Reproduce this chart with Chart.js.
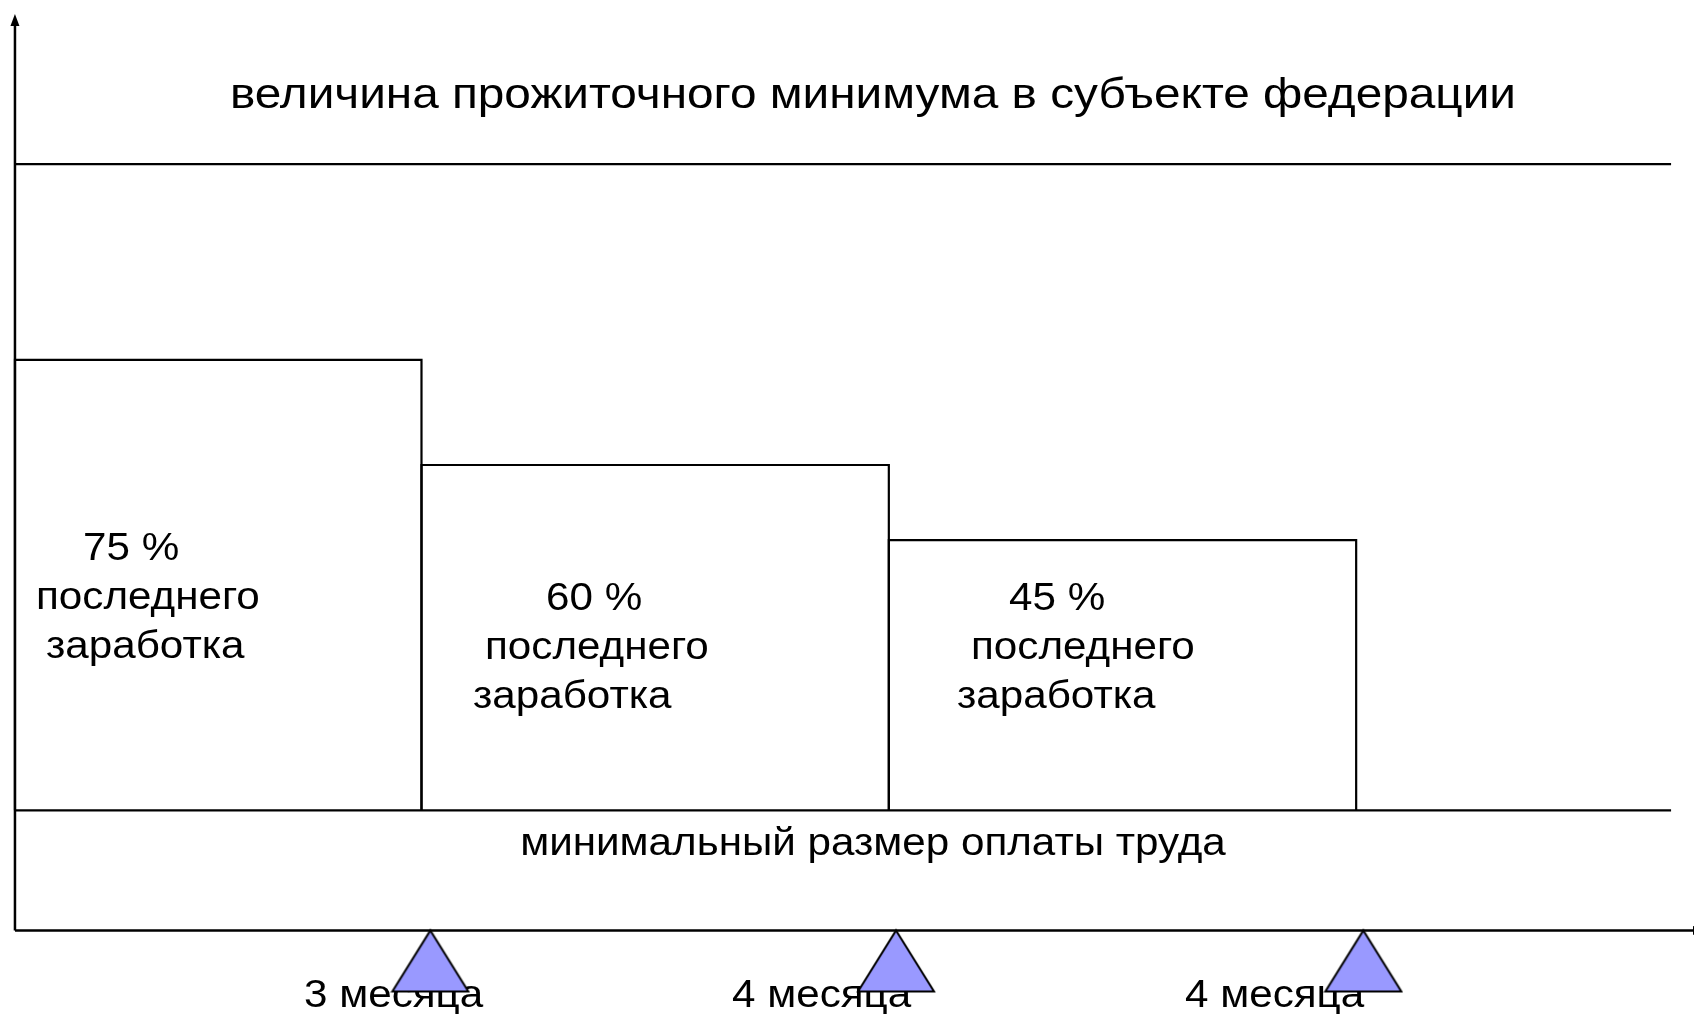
<!DOCTYPE html>
<html>
<head>
<meta charset="utf-8">
<script src="https://cdn.jsdelivr.net/npm/chart.js@4"></script>
<style>
  html, body { margin: 0; padding: 0; background: #fff; }
  #wrap { width: 1694px; height: 1014px; }
</style>
</head>
<body>
<div id="wrap"><canvas id="chart"></canvas></div>
<script>
// Размер пособия по безработице по периодам

// Подписи периодов под осью X
const periodLabels = ["3 месяца", "4 месяца", "4 месяца"];
// Доля последнего заработка в каждом периоде
const shareLabels = ["75 %", "60 %", "45 %"];
// Границы периодов по оси X (условные единицы, 0 — ось Y)
const periodEdges = [0, 24.27, 52.17, 80.07];
// Маркеры-треугольники на оси X
const markerX = [24.8, 52.6, 80.5];
// Верх каждого столбца (0 — ось X)
const barTops = [95, 77.5, 65];
// Нижняя граница — минимальный размер оплаты труда
const mrotLevel = 20;
// Верхняя граница — величина прожиточного минимума
const subsistenceLevel = 127.6;
const lineEnd = 98.87;
const yAxisTop = 152.6;

const FONT_FAMILY = "'Liberation Sans', Arial, sans-serif";
const STRETCH = 1.11; // текст в оригинале немного растянут по горизонтали

// Треугольник с вершиной в центре картинки, чтобы вершина касалась оси
const makeTriangle = () => {
  const c = document.createElement("canvas");
  c.width = 80;
  c.height = 130;
  const g = c.getContext("2d");
  g.beginPath();
  g.moveTo(40, 65);
  g.lineTo(78, 126);
  g.lineTo(2, 126);
  g.closePath();
  g.fillStyle = "#9999ff";
  g.fill();
  g.lineWidth = 2;
  g.strokeStyle = "#000";
  g.stroke();
  return c;
};

const lineStyle = {
  showLine: true,
  pointRadius: 0,
  borderColor: "#000",
  borderWidth: 2.2,
  fill: false,
  clip: false,
};

const barSets = barTops.map((top, i) => ({
  ...lineStyle,
  data: [
    { x: periodEdges[i], y: mrotLevel },
    { x: periodEdges[i], y: top },
    { x: periodEdges[i + 1], y: top },
    { x: periodEdges[i + 1], y: mrotLevel },
  ],
}));

const data = {
  datasets: [
    ...barSets,
    {
      ...lineStyle,
      data: [{ x: 0, y: mrotLevel }, { x: lineEnd, y: mrotLevel }],
    },
    {
      ...lineStyle,
      data: [{ x: 0, y: subsistenceLevel }, { x: lineEnd, y: subsistenceLevel }],
    },
    {
      data: markerX.map((x) => ({ x, y: 0 })),
      pointStyle: makeTriangle(),
      pointRadius: 0.5,
      pointBorderWidth: 0,
      showLine: false,
      clip: false,
    },
  ],
};

// Растянутый текст
const stretchText = (ctx, text, x, y, align) => {
  ctx.save();
  ctx.translate(x, y);
  ctx.scale(STRETCH, 1);
  ctx.textAlign = align;
  ctx.fillText(text, 0, 0);
  ctx.restore();
};

// Оси со стрелками и подписи
const axesPlugin = {
  id: "axes",
  beforeDatasetsDraw(chart) {
    const { ctx, scales: { x, y } } = chart;
    const x0 = x.getPixelForValue(0);
    const y0 = y.getPixelForValue(0);
    const yTop = y.getPixelForValue(yAxisTop);
    const xEnd = chart.width - 1;
    ctx.save();
    ctx.strokeStyle = "#000";
    ctx.fillStyle = "#000";
    ctx.lineWidth = 2.5;
    ctx.beginPath();
    ctx.moveTo(x0, y0);
    ctx.lineTo(x0, yTop + 10);
    ctx.moveTo(x0, y0);
    ctx.lineTo(xEnd, y0);
    ctx.stroke();
    ctx.beginPath();
    ctx.moveTo(x0, yTop);
    ctx.lineTo(x0 + 4.5, yTop + 12);
    ctx.lineTo(x0 - 4.5, yTop + 12);
    ctx.closePath();
    ctx.fill();
    ctx.beginPath();
    ctx.moveTo(xEnd + 12, y0);
    ctx.lineTo(xEnd, y0 - 4.5);
    ctx.lineTo(xEnd, y0 + 4.5);
    ctx.closePath();
    ctx.fill();

    ctx.textBaseline = "alphabetic";
    ctx.font = "43px " + FONT_FAMILY;
    stretchText(ctx, "величина прожиточного минимума в субъекте федерации", 873, 108, "center");
    ctx.font = "38px " + FONT_FAMILY;
    stretchText(ctx, "минимальный размер оплаты труда", 873, 855, "center");

    const lefts = [
      [83, 36, 46],
      [546, 485, 473],
      [1009, 971, 957],
    ];
    const base = [560, 610, 610];
    shareLabels.forEach((s, i) => {
      const lines = [s, "последнего", "заработка"];
      lines.forEach((t, j) => stretchText(ctx, t, lefts[i][j], base[i] + j * 49, "left"));
    });

    const bottomLefts = [304, 732, 1185];
    periodLabels.forEach((t, i) => stretchText(ctx, t, bottomLefts[i], 1007, "left"));
    ctx.restore();
  },
};

const config = {
  type: "scatter",
  data,
  options: {
    responsive: true,
    maintainAspectRatio: false,
    animation: false,
    layout: { padding: 0 },
    scales: {
      x: { type: "linear", display: false, min: -0.6544, max: 100.0 },
      y: { type: "linear", display: false, min: -13.24, max: 154.25 },
    },
    plugins: {
      legend: { display: false },
      tooltip: { enabled: false },
    },
  },
  plugins: [axesPlugin],
};

const ctx = document.querySelector("#chart").getContext("2d");
const chart = new Chart(ctx, config);
</script>
</body>
</html>
